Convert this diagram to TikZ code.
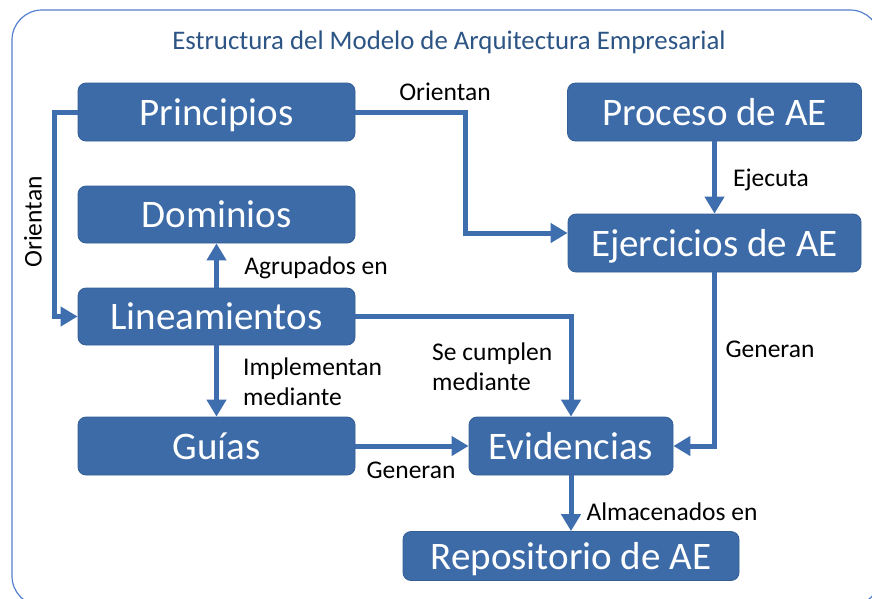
\documentclass[tikz,border=0pt]{standalone}
\usepackage{fontspec}
\setmainfont{Carlito}
\usetikzlibrary{arrows.meta}
\definecolor{boxfill}{RGB}{60,107,168}
\definecolor{boxline}{RGB}{52,94,150}
\definecolor{arrowc}{RGB}{62,110,173}
\definecolor{titlec}{RGB}{44,84,132}
\definecolor{framec}{RGB}{84,128,206}
\tikzset{
  bx/.style={draw=boxline, line width=0.8pt, fill=boxfill, rounded corners=8pt, inner sep=0pt,
    text=white, font=\fontsize{39}{40}\selectfont, text height=28pt, text depth=2pt},
  conn/.style={draw=arrowc, line width=5pt, -{Triangle[length=17pt,width=19pt]}},
  lbl/.style={font=\fontsize{25.5}{30}\selectfont, text=black, inner sep=0pt, align=left},
}
\begin{document}
\begin{tikzpicture}[x=1pt,y=-1pt]
\useasboundingbox (0,0) rectangle (872,598);
\begin{scope}
\clip (0,0) rectangle (872,598);
\draw[framec, line width=1.2pt, rounded corners=30pt] (12,10) rectangle (880,606);
\end{scope}
\node[font=\fontsize{26.8}{30}\selectfont, text=titlec, inner sep=0pt] (title) at (449,42) {Estructura del Modelo de Arquitectura Empresarial};

\node[bx, minimum width=277pt, minimum height=58pt] (prin) at (216.5,112) {Principios};
\node[bx, minimum width=294pt, minimum height=58pt] (proc) at (714.5,112) {Proceso de AE};
\node[bx, minimum width=277pt, minimum height=57pt] (dom) at (216.5,214.5) {Dominios};
\node[bx, minimum width=293pt, minimum height=58pt] (ejer) at (714.5,243) {Ejercicios de AE};
\node[bx, minimum width=277pt, minimum height=57pt] (lin) at (216.5,316.5) {Lineamientos};
\node[bx, minimum width=277pt, minimum height=58pt] (guias) at (216.5,446) {Guías};
\node[bx, minimum width=204pt, minimum height=58pt] (evid) at (571,446) {Evidencias};
\node[bx, minimum width=336pt, minimum height=49pt] (repo) at (571,556) {Repositorio de AE};

\coordinate (c1) at (54.5,112);
\coordinate (c2) at (465,233);

\draw[conn] (prin.west) -- (c1) |- (lin.west);
\draw[conn] (prin.east) -| (c2) -- (c2 -| ejer.west);
\draw[conn] (proc.south) -- (ejer.north);
\draw[conn] (ejer.south) |- (evid.east);
\draw[conn] (lin.north) -- (dom.south);
\draw[conn] (lin.south) -- (guias.north);
\draw[conn] (lin.east) -| (evid.north);
\draw[conn] (guias.east) -- (evid.west);
\draw[conn] (evid.south) -- (repo.north);

\node[lbl] (l1) at (445,92) {Orientan};
\node[lbl, rotate=90] (l2) at (33,222) {Orientan};
\node[lbl] (l3) at (771,180) {Ejecuta};
\node[lbl] (l4) at (316,268) {Agrupados en};
\node[lbl, anchor=west] (l5) at (243,382) {Implementan\\mediante};
\node[lbl, anchor=west] (l6) at (432,367) {Se cumplen\\mediante};
\node[lbl] (l7) at (770,349) {Generan};
\node[lbl] (l8) at (411,470) {Generan};
\node[lbl] (l9) at (672,512) {Almacenados en};
\end{tikzpicture}
\end{document}
